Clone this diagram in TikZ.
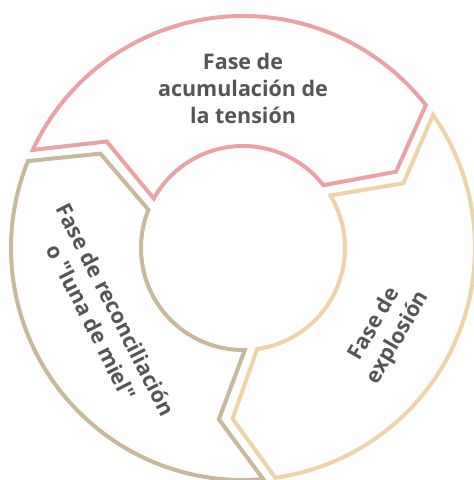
\documentclass[tikz,border=0pt]{standalone}
\usepackage{fontspec}
\newfontfamily\abierta{Open Sans}
\usepackage{xcolor}
\usepackage{tikz}
\definecolor{rosa}{HTML}{E9A3A6}
\definecolor{arena}{HTML}{EDD3A8}
\definecolor{taupe}{HTML}{C8B89E}
\definecolor{texto}{HTML}{555555}
\tikzset{
  seg/.style={line width=4pt, line join=miter},
  acum/.style={seg, draw=rosa},
  expl/.style={seg, draw=arena},
  recon/.style={seg, draw=taupe},
  lbl/.style={font=\abierta\fontsize{21.5}{27}\selectfont\bfseries, text=texto, align=center, inner sep=0pt}
}
\begin{document}
\begin{tikzpicture}[x=1pt, y=1pt]
        \useasboundingbox (-243,-232) rectangle (231,248);
        % acumulacion (arriba)
        \draw[acum] (155:232) arc[start angle=155, end angle=38, radius=232]
          -- (26.5:171) -- (38:102) arc[start angle=38, end angle=151, radius=102]
          -- (142:173) -- cycle;
        % explosion (derecha)
        \draw[expl] (35:232) arc[start angle=35, end angle=-82, radius=232]
          -- (-93.5:171) -- (-82:102) arc[start angle=-82, end angle=31, radius=102]
          -- (22:173) -- cycle;
        % reconciliacion (izquierda)
        \draw[recon] (275:232) arc[start angle=275, end angle=158, radius=232]
          -- (146.5:171) -- (158:102) arc[start angle=158, end angle=271, radius=102]
          -- (262:173) -- cycle;
        \node[lbl] (tension) at (90:160) {Fase de\\acumulación de\\la tensión};
        \node[lbl, rotate=60] (explosion) at (-30:166) {Fase de\\explosión};
        \node[lbl, rotate=-63] (miel) at (206:155) {Fase de reconciliación\\o "luna de miel"};
      \end{tikzpicture}
\end{document}
